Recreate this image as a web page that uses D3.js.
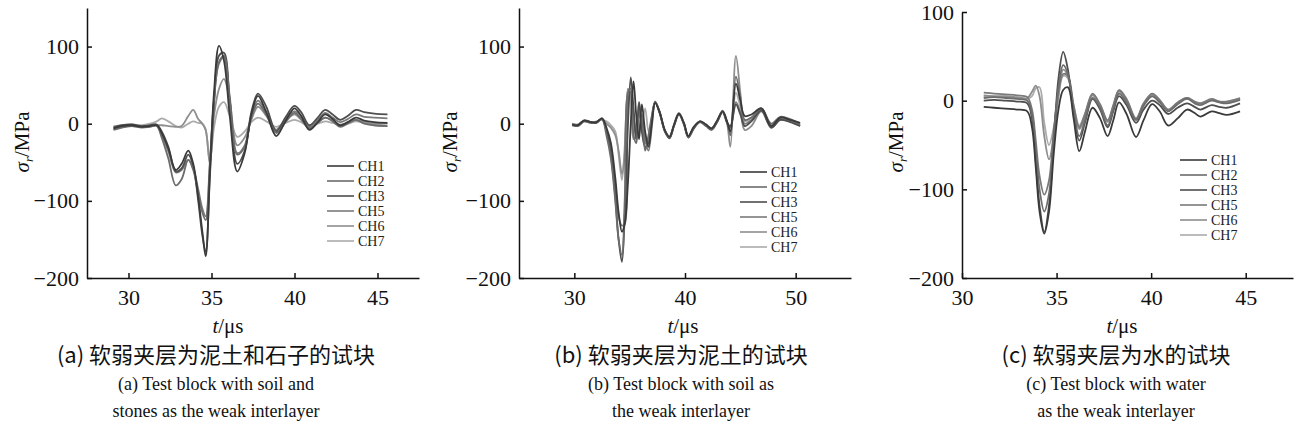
<!DOCTYPE html>
<html>
  <head>
    <meta charset="utf-8">
		<script type="text/javascript" src="https://cdn.jsdelivr.net/npm/d3@7"></script>
		<title></title>
		<style>
			body { margin: 0; background: #fff; }
		</style>
  </head>
	<body>
		<div id="body"></div>
		<script type="text/javascript">
		var w = 1299, h = 437;
		var serif = "'Liberation Serif', 'Times New Roman', 'DejaVu Serif', serif";
		var cjk = "'Noto Sans CJK SC', 'Liberation Serif', sans-serif";

		var channels = ["CH1", "CH2", "CH3", "CH5", "CH6", "CH7"];
		var color = ["#3a3a3a", "#6c6c6c", "#4e4e4e", "#7a7a7a", "#8e8e8e", "#ababab"];

		// (a) soil and stones
		var timeA = [29.1, 29.6, 30.2, 30.8, 31.3, 31.7, 32.0, 32.4, 32.85, 33.2, 33.6, 33.9, 34.2, 34.45, 34.65, 34.9, 35.15, 35.45, 35.75, 36.1, 36.55, 37.0, 37.4, 37.8, 38.3, 38.9, 39.45, 40.0, 40.4, 40.9, 41.4, 41.85, 42.3, 42.75, 43.2, 43.7, 44.2, 44.8, 45.6];
		var aCH1 = [-6, -3, -2, -4, -3, -2, -12, -32, -60, -52, -35, -52, -95, -140, -172, -65, 40, 101, 82, 10, -62, -38, 12, 36, 15, -16, 3, 20, 10, -8, 2, 12, 6, -2, 2, 8, 4, 2, 1];
		var aCH2 = [-8, -5, -3, -5, -4, -3, -18, -45, -80, -72, -47, -60, -90, -115, -125, -55, 30, 80, 88, 30, -40, -30, 8, 26, 12, -12, 2, 14, 6, -6, 1, 8, 3, -4, 0, 5, 0, -2, -3];
		var aCH3 = [-5, -2, -1, -3, -2, -1, -10, -30, -62, -58, -40, -55, -100, -145, -166, -70, 25, 88, 92, 30, -52, -35, 15, 39, 22, -10, 8, 23, 15, -2, 8, 18, 12, 5, 10, 18, 15, 13, 12];
		var aCH5 = [-7, -4, -3, -4, -3, -2, -14, -36, -63, -60, -47, -58, -85, -110, -120, -50, 30, 78, 86, 35, -38, -28, 10, 30, 15, -8, 6, 16, 10, -4, 5, 14, 8, 2, 6, 12, 9, 8, 7];
		var aCH6 = [-4, -3, -2, -3, -3, -2, -2, -3, -4, -3, 10, 18, 6, 0, -8, -52, 10, 45, 58, 30, -28, -18, 5, 22, 10, -8, 3, 12, 5, -5, 2, 8, 4, -2, 1, 5, 2, 0, 0];
		var aCH7 = [-3, -2, -1, -2, 0, 3, 7, 3, -3, -5, 0, 3, 1, 0, -8, -50, -5, 22, 28, 10, -17, -10, 2, 8, 3, -4, 1, 5, 2, -4, 0, 3, 1, -1, 0, 3, 1, -2, -3];

		// (b) soil
		var timeB = [29.8, 30.3, 30.9, 31.5, 32.0, 32.5, 32.9, 33.3, 33.7, 34.0, 34.3, 34.55, 34.85, 35.1, 35.35, 35.6, 35.85, 36.1, 36.4, 36.7, 37.0, 37.3, 37.7, 38.2, 38.6, 39.0, 39.45, 39.9, 40.3, 40.8, 41.35, 41.9, 42.4, 42.9, 43.4, 43.8, 44.1, 44.6, 45.0, 45.4, 46.0, 46.9, 47.8, 48.6, 49.5, 50.4];
		var bCH1 = [-1, -2, 4, 2, 2, 7, -5, -25, -70, -115, -140, -130, -75, 0, 55, 10, -20, 25, -10, -30, 0, 27, 15, -9, -17, -2, 13, 1, -16, -4, 3, -1, -6, 4, 16, 3, -10, 52, 30, 10, 12, 20, -3, 8, 5, 1];
		var bCH2 = [-2, -3, 3, 1, 2, 6, -15, -45, -100, -150, -170, -100, 40, 45, -15, -25, 10, 5, -35, -15, 10, 28, 14, -10, -18, -3, 12, 0, -17, -5, 2, -2, -7, 3, 15, 2, -15, 61, 35, 5, 8, 20, 0, 9, 6, 0];
		var bCH3 = [-1, -2, 4, 2, 1, 7, -10, -40, -95, -150, -179, -120, 0, 60, 20, -20, 28, -10, -30, -25, 5, 28, 15, -11, -19, -3, 12, -1, -18, -6, 2, -3, -8, 2, 15, 1, -3, 25, 12, -3, 3, 17, -5, 5, 2, -3];
		var bCH5 = [-2, -3, 3, 1, 2, 6, -8, -30, -80, -120, -132, -130, 30, 42, 10, -20, -10, 12, -20, -35, -5, 28, 16, -10, -18, -2, 13, 0, -17, -5, 3, -2, -7, 3, 16, 2, -5, 28, 15, 0, 5, 18, -5, 6, 3, -2];
		var bCH6 = [0, -1, 4, 2, 2, 6, 0, -5, -15, -35, -65, -40, 45, 35, -20, -15, 15, -5, -25, -20, 8, 29, 15, -10, -17, -1, 14, 1, -16, -4, 3, -1, -6, 4, 17, 1, -30, 88, 40, -8, -3, 16, -5, 5, 3, -3];
		var bCH7 = [-1, -2, 5, 2, 3, 5, 3, -2, -10, -40, -73, -30, 45, 30, -10, 0, 28, 0, 20, -10, 5, 28, 16, -9, -16, -2, 13, 1, -16, -5, 3, -1, -6, 3, 16, 2, -12, 40, 22, 3, 8, 19, -2, 7, 4, -1];

		// (c) water
		var timeC = [31.15, 31.7, 32.3, 32.9, 33.45, 33.7, 33.9, 34.1, 34.35, 34.6, 34.85, 35.1, 35.35, 35.6, 35.9, 36.2, 36.5, 36.9, 37.3, 37.7, 38.0, 38.3, 38.7, 39.2, 39.6, 40.05, 40.45, 40.9, 41.4, 41.9, 42.3, 42.6, 43.2, 43.6, 44.0, 44.7];
		var cCH1 = [-7, -8, -9, -10, -12, -30, -75, -125, -150, -125, -60, -10, 12, 15, -20, -57, -35, -8, -20, -40, -22, -2, -15, -41, -22, -4, -12, -28, -20, -10, -14, -18, -12, -14, -16, -12];
		var cCH2 = [3, 4, 3, 2, 0, -15, -55, -100, -125, -105, -40, 15, 40, 30, -10, -40, -22, 3, -8, -28, -10, 8, -2, -22, -6, 5, -2, -12, -4, 2, -3, -5, 0, -2, -3, 1];
		var cCH3 = [0, 1, 0, -1, -3, -20, -68, -118, -148, -118, -45, 25, 55, 35, -15, -45, -25, 2, -10, -30, -12, 5, -5, -25, -10, 0, -5, -15, -8, -3, -7, -10, -5, -7, -8, -3];
		var cCH5 = [9, 8, 7, 6, 4, -10, -45, -85, -106, -90, -35, 10, 30, 28, -5, -30, -15, 8, -4, -22, -5, 12, 2, -20, -3, 8, 1, -10, -2, 3, -1, -3, 2, -1, -1, 3];
		var cCH6 = [6, 5, 5, 4, 3, 10, 17, 5, -40, -66, -40, 5, 35, 28, -8, -32, -18, 6, -6, -24, -7, 11, 0, -21, -4, 7, 0, -11, -3, 3, -2, -3, 1, -1, -2, 2];
		var cCH7 = [5, 4, 4, 3, 2, 5, 14, 15, -25, -50, -30, 5, 28, 25, -5, -28, -15, 7, -5, -23, -6, 10, 1, -21, -4, 7, 0, -10, -2, 3, -1, -3, 1, -1, -1, 2];

		var xTicksA = [30, 35, 40, 45], xTicksB = [30, 40, 50], xTicksC = [30, 35, 40, 45];
		var yTicks = [-200, -100, 0, 100];

		var captionsA = ["(a) 软弱夹层为泥土和石子的试块", "(a) Test block with soil and", "stones as the weak interlayer"];
		var captionsB = ["(b) 软弱夹层为泥土的试块", "(b) Test block with soil as", "the weak interlayer"];
		var captionsC = ["(c) 软弱夹层为水的试块", "(c) Test block with water", "as the weak interlayer"];

		var panels = [
			{left: 87, right: 419, top: 8, xd: [27.5, 47.5], yd: [-200, 150], xt: xTicksA, time: timeA,
			 series: [aCH1, aCH2, aCH3, aCH5, aCH6, aCH7], legend: [327, 166], ylab: 22, cx: 216, tx: 228, cap: captionsA},
			{left: 519, right: 851, top: 8, xd: [25, 55], yd: [-200, 150], xt: xTicksB, time: timeB,
			 series: [bCH1, bCH2, bCH3, bCH5, bCH6, bCH7], legend: [740, 172], ylab: 450, cx: 681, tx: 683, cap: captionsB},
			{left: 962, right: 1293, top: 12, xd: [30, 47.5], yd: [-200, 100], xt: xTicksC, time: timeC,
			 series: [cCH1, cCH2, cCH3, cCH5, cCH6, cCH7], legend: [1180, 160], ylab: 896, cx: 1116, tx: 1122, cap: captionsC}
		];
		var bottom = 278;

		var svg = d3.select("#body")
				.append("svg")
				.attr("width", w)
				.attr("height", h);
		svg.append("rect").attr("width", w).attr("height", h).attr("fill", "#fff");

		panels.forEach(function(p) {
			var x = d3.scaleLinear().domain(p.xd).range([p.left, p.right]);
			var y = d3.scaleLinear().domain(p.yd).range([bottom, p.top]);
			var g = svg.append("g").style("font-family", serif);

			var line = d3.line()
				.x(function(d) {return x(d[0]);})
				.y(function(d) {return y(d[1]);})
				.curve(d3.curveCatmullRom.alpha(0.5));

			// lighter channels first so the dark ones sit on top
			d3.range(p.series.length).reverse().forEach(function(i) {
				var pts = p.time.map(function(t, j) {return [t, p.series[i][j]];});
				g.append("path")
					.attr("d", line(pts))
					.attr("fill", "none")
					.attr("stroke", color[i])
					.attr("stroke-width", 1.8)
					.attr("stroke-linejoin", "round");
			});

			var xAxis = g.append("g")
				.attr("transform", "translate(0," + bottom + ")")
				.call(d3.axisBottom(x).tickValues(p.xt).tickSizeInner(-5).tickSizeOuter(0).tickPadding(11));
			var yAxis = g.append("g")
				.attr("transform", "translate(" + p.left + ",0)")
				.call(d3.axisLeft(y).tickValues(yTicks).tickSizeInner(-5).tickSizeOuter(0).tickPadding(8));
			[xAxis, yAxis].forEach(function(a) {
				a.attr("font-family", null).attr("font-size", null);
				a.selectAll("path, line").attr("stroke", "#111").attr("stroke-width", 1.5);
				a.selectAll("text").style("font-family", serif).style("font-size", "22px").attr("fill", "#111");
			});

			// axis titles
			var yl = g.append("text")
				.attr("transform", "translate(" + p.ylab + "," + 142 + ") rotate(-90)")
				.attr("text-anchor", "middle")
				.attr("dy", "0.35em")
				.attr("fill", "#111")
				.style("font-family", serif)
				.style("font-size", "21px");
			yl.append("tspan").attr("font-style", "italic").text("σ");
			yl.append("tspan").attr("font-style", "italic").style("font-size", "13px").attr("dy", "0.3em").text("r");
			yl.append("tspan").attr("dy", "-0.2em").text("/MPa");

			var xl = g.append("text")
				.attr("x", p.tx).attr("y", 333)
				.attr("text-anchor", "middle")
				.attr("fill", "#111")
				.style("font-family", serif)
				.style("font-size", "21px");
			xl.append("tspan").attr("font-style", "italic").text("t");
			xl.append("tspan").text("/μs");

			// legend
			channels.forEach(function(c, i) {
				var ly = p.legend[1] + i * 15;
				g.append("line")
					.attr("x1", p.legend[0]).attr("x2", p.legend[0] + 27)
					.attr("y1", ly).attr("y2", ly)
					.attr("stroke", color[i]).attr("stroke-width", 1.6);
				g.append("text")
					.attr("x", p.legend[0] + 31).attr("y", ly)
					.attr("dy", "0.35em")
					.attr("fill", "#222")
					.style("font-family", serif)
					.style("font-size", "14px")
					.text(c);
			});

			// captions
			g.append("text")
				.attr("x", p.cx).attr("y", 363)
				.attr("text-anchor", "middle")
				.attr("fill", "#111")
				.style("font-family", cjk)
				.style("font-size", "22px")
				.text(p.cap[0]);
			[p.cap[1], p.cap[2]].forEach(function(s, k) {
				g.append("text")
					.attr("x", p.cx).attr("y", 390 + k * 27)
					.attr("text-anchor", "middle")
					.attr("fill", "#111")
					.style("font-family", serif)
					.style("font-size", "18px")
					.text(s);
			});
		});
		</script>
	</body>
</html>
